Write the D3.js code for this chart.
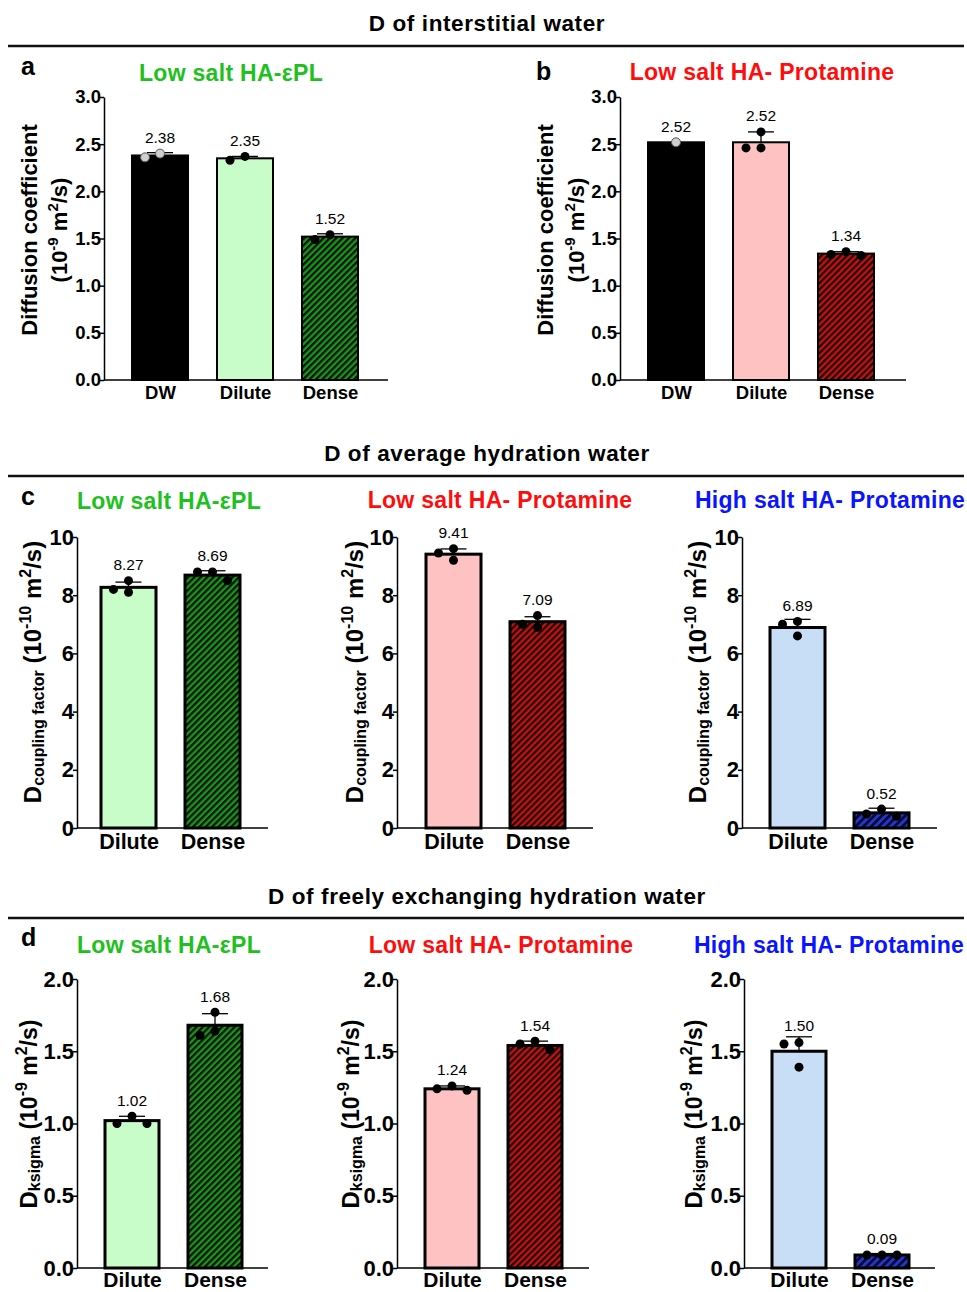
<!DOCTYPE html>
<html>
<head>
<meta charset="utf-8">
<script src="https://cdn.jsdelivr.net/npm/d3@7"></script>
<style>
  body{margin:0;background:#fff;}
  svg text{font-family:"Liberation Sans",Arial,Helvetica,sans-serif;}
</style>
</head>
<body>
<svg id="fig" width="967" height="1292"></svg>
<script>
// ---- data ----
var catsInter=["DW","Dilute","Dense"];
var catsHyd=["Dilute","Dense"];

// a: interstitial water, low salt HA-ePL (10^-9 m2/s)
var meanA=[2.38,2.35,1.52];
var sdA=[0.03,0.02,0.03];
var ptsA=[[2.36,2.40],[2.33,2.37],[1.49,1.54]];
// b: interstitial water, low salt HA-protamine
var meanB=[2.52,2.52,1.34];
var sdB=[0,0.11,0.02];
var ptsB=[[2.52],[2.63,2.46,2.46],[1.32,1.36,1.33]];
// c: D coupling factor (10^-10 m2/s)
var meanC1=[8.27,8.69],sdC1=[0.18,0.15],ptsC1=[[8.5,8.1,8.2],[8.8,8.5,8.8]];
var meanC2=[9.41,7.09],sdC2=[0.18,0.17],ptsC2=[[9.6,9.2,9.45],[7.3,6.9,7.0]];
var meanC3=[6.89,0.52],sdC3=[0.28,0.16],ptsC3=[[7.1,6.6,7.0],[0.4,0.65,0.48]];
// d: D ksigma (10^-9 m2/s)
var meanD1=[1.02,1.68],sdD1=[0.03,0.08],ptsD1=[[1.00,1.05,1.00],[1.77,1.61,1.64]];
var meanD2=[1.24,1.54],sdD2=[0.02,0.03],ptsD2=[[1.23,1.26,1.24],[1.57,1.51,1.55]];
var meanD3=[1.50,0.09],sdD3=[0.10,0.01],ptsD3=[[1.56,1.39,1.55],[0.09,0.09,0.09]];

var ticksAB=[0,0.5,1,1.5,2,2.5,3];
var ticksC=[0,2,4,6,8,10];
var ticksD=[0,0.5,1,1.5,2];

var headers=["D of interstitial water","D of average hydration water","D of freely exchanging hydration water"];
var titleEPL="Low salt HA-\u03b5PL", titlePro="Low salt HA- Protamine", titleHigh="High salt HA- Protamine";

// ---- colours ----
var green="#20c020", red="#ff0d0d", blue="#0a14ff";
var lightGreen="#c8fcc8", pink="#ffc2c2", lightBlue="#c8ddf6";

var svg=d3.select("#fig");
var defs=svg.append("defs");
function hatch(id,base,line,w,frac){
  var p=defs.append("pattern")
    .attr("id",id)
    .attr("patternUnits","userSpaceOnUse")
    .attr("width",w).attr("height",w)
    .attr("patternTransform","rotate(45)");
  p.append("rect").attr("width",w).attr("height",w).attr("fill",base);
  p.append("rect").attr("width",w*frac).attr("height",w).attr("fill",line);
}
hatch("hg","#1c961c","#051405",4.5,0.5);
hatch("hr","#c21414","#250303",4.5,0.5);
hatch("hb","#2636c8","#070b36",5.5,0.5);

// ---- section headers ----
var headY=[31,461,904], lineY=[46,476,918];
headers.forEach(function(h,i){
  svg.append("text").attr("x",487).attr("y",headY[i])
    .attr("text-anchor","middle")
    .style("font-size","22.5px").style("font-weight","bold").style("letter-spacing","0.6px")
    .text(h);
  svg.append("line").attr("x1",8).attr("x2",964)
    .attr("y1",lineY[i]).attr("y2",lineY[i])
    .attr("stroke","#111").attr("stroke-width",2.5);
});

// panel letters
[["a",21,75],["b",536,80],["c",21,505],["d",21,946]].forEach(function(l){
  svg.append("text").attr("x",l[1]).attr("y",l[2])
    .style("font-size","25px").style("font-weight","bold").text(l[0]);
});

function richText(sel,parts){
  var off=0;
  parts.forEach(function(p){
    var s=p.shift||0;
    sel.append("tspan").attr("dy",s-off)
      .style("font-size",p.size+"px").text(p.t);
    off=s;
  });
}

function yTitle(x,y,parts){
  var t=svg.append("text")
    .attr("transform","translate("+x+","+y+") rotate(-90)")
    .attr("text-anchor","middle")
    .style("font-weight","bold");
  richText(t,parts);
}

var unit9=[{t:"(10",size:22},{t:"-9",size:15,shift:-9},{t:" m",size:22},{t:"2",size:15,shift:-9},{t:"/s)",size:22}];
var coupling=[{t:"D",size:24},{t:"coupling factor",size:16,shift:3},{t:" (10",size:24},{t:"-10",size:16,shift:-10},{t:" m",size:24},{t:"2",size:16,shift:-10},{t:"/s)",size:24}];
var ksigma=[{t:"D",size:24},{t:"ksigma",size:16,shift:3},{t:" (10",size:23},{t:"-9",size:16,shift:-10},{t:" m",size:23},{t:"2",size:16,shift:-10},{t:"/s)",size:23}];

// ---- one bar panel ----
function panel(o){
  var y=d3.scaleLinear().domain([0,o.max]).range([o.yBot,o.yTop]);
  var n=o.cats.length, step=o.step, bw=o.bw;
  var x=d3.scaleBand().domain(o.cats)
    .range([o.ax+o.off,o.ax+o.off+n*step-(step-bw)])
    .paddingInner((step-bw)/step).paddingOuter(0);
  var g=svg.append("g");

  // bars
  g.selectAll("rect.bar").data(o.mean).enter().append("rect")
    .attr("class","bar")
    .attr("x",function(d,i){return x(o.cats[i]);})
    .attr("y",function(d){return y(d);})
    .attr("width",x.bandwidth())
    .attr("height",function(d){return o.yBot-y(d);})
    .attr("fill",function(d,i){return o.fills[i];})
    .attr("stroke","#000").attr("stroke-width",o.bs);

  // error bars (mean + SD)
  o.mean.forEach(function(m,i){
    if(!o.sd[i]) return;
    var cx=x(o.cats[i])+x.bandwidth()/2;
    g.append("line").attr("x1",cx).attr("x2",cx)
      .attr("y1",y(m)).attr("y2",y(m+o.sd[i]))
      .attr("stroke","#000").attr("stroke-width",1.3);
    g.append("line").attr("x1",cx-13).attr("x2",cx+13)
      .attr("y1",y(m+o.sd[i])).attr("y2",y(m+o.sd[i]))
      .attr("stroke","#000").attr("stroke-width",1.3);
  });

  // replicate points, spread sideways where they overlap
  var r=4.5, sp=15;
  o.pts.forEach(function(arr,i){
    var cx=x(o.cats[i])+x.bandwidth()/2;
    var placed=[];
    arr.slice().sort(function(a,b){return b-a;}).forEach(function(v){
      var py=y(v), cands=[0,-sp,sp,-2*sp,2*sp], px=cx;
      for(var k=0;k<cands.length;k++){
        var tx=cx+cands[k];
        var hit=placed.some(function(p){return Math.hypot(p[0]-tx,p[1]-py)<2*r;});
        if(!hit){px=tx;break;}
      }
      placed.push([px,py]);
    });
    g.selectAll(null).data(placed).enter().append("circle")
      .attr("cx",function(d){return d[0];})
      .attr("cy",function(d){return d[1];})
      .attr("r",r)
      .attr("fill",o.ptFill[i])
      .attr("stroke",o.ptFill[i]==="#000"?"none":"#555")
      .attr("stroke-width",1);
    var top=Math.min(y(o.mean[i]+o.sd[i]),d3.min(placed,function(d){return d[1];})-r);
    g.append("text").attr("x",cx).attr("y",top-6)
      .attr("text-anchor","middle")
      .style("font-size","15.5px")
      .text(o.mean[i].toFixed(2));
  });

  // axes
  var yAxis=d3.axisLeft(y).tickValues(o.ticks).tickSize(4).tickPadding(-1)
    .tickFormat(d3.format(o.fmt)).tickSizeOuter(0);
  var ya=g.append("g").attr("transform","translate("+o.ax+",0)").call(yAxis);
  ya.select(".domain").attr("stroke-width",1.5);
  ya.selectAll(".tick line").attr("stroke-width",1.5);
  ya.selectAll(".tick text").style("font-size",o.tf+"px").style("font-weight","bold")
    .style("font-family","'Liberation Sans',Arial,sans-serif").attr("fill","#000");

  var xAxis=d3.axisBottom(d3.scalePoint().domain(o.cats)
      .range([x(o.cats[0])+bw/2,x(o.cats[n-1])+bw/2]))
    .tickSize(0).tickPadding(o.xp);
  var xa=g.append("g").attr("transform","translate(0,"+o.yBot+")").call(xAxis);
  xa.select(".domain").attr("d","M"+o.ax+",0H"+o.xEnd).attr("stroke-width",1.5);
  xa.selectAll(".tick text").style("font-size",o.xf+"px").style("font-weight","bold")
    .style("font-family","'Liberation Sans',Arial,sans-serif").attr("fill","#000");

  // title
  svg.append("text").attr("x",o.tx).attr("y",o.ty)
    .attr("text-anchor","middle").attr("fill",o.tc)
    .style("font-size","23px").style("font-weight","bold").style("letter-spacing","0.3px")
    .text(o.title);
}

var ab={max:3,ticks:ticksAB,fmt:".1f",yTop:97,yBot:380,step:85,bw:56,off:28,bs:2,tf:18.5,xf:18.5,xp:6};
var cc={max:10,ticks:ticksC,fmt:"d",yTop:537,yBot:828,step:84,bw:55,off:28,bs:3,tf:22,xf:21.5,xp:6};
var dd={max:2,ticks:ticksD,fmt:".1f",yTop:979,yBot:1268,step:83,bw:54,off:28,bs:3,tf:22,xf:21,xp:4.5};

panel(Object.assign({},ab,{cats:catsInter,mean:meanA,sd:sdA,pts:ptsA,ax:104,xEnd:388,
  fills:["#000",lightGreen,"url(#hg)"],ptFill:["#cfcfcf","#000","#000"],
  title:titleEPL,tc:green,tx:231,ty:81}));
panel(Object.assign({},ab,{cats:catsInter,mean:meanB,sd:sdB,pts:ptsB,ax:620,xEnd:906,
  fills:["#000",pink,"url(#hr)"],ptFill:["#cfcfcf","#000","#000"],
  title:titlePro,tc:red,tx:762,ty:80}));

panel(Object.assign({},cc,{cats:catsHyd,mean:meanC1,sd:sdC1,pts:ptsC1,ax:77,xEnd:268,off:24,
  fills:[lightGreen,"url(#hg)"],ptFill:["#000","#000"],title:titleEPL,tc:green,tx:169,ty:509}));
panel(Object.assign({},cc,{cats:catsHyd,mean:meanC2,sd:sdC2,pts:ptsC2,ax:397,xEnd:593,off:29,
  fills:[pink,"url(#hr)"],ptFill:["#000","#000"],title:titlePro,tc:red,tx:500,ty:508}));
panel(Object.assign({},cc,{cats:catsHyd,mean:meanC3,sd:sdC3,pts:ptsC3,ax:742,xEnd:937,
  fills:[lightBlue,"url(#hb)"],ptFill:["#000","#000"],title:titleHigh,tc:blue,tx:830,ty:508}));

panel(Object.assign({},dd,{cats:catsHyd,mean:meanD1,sd:sdD1,pts:ptsD1,ax:77,xEnd:268,
  fills:[lightGreen,"url(#hg)"],ptFill:["#000","#000"],title:titleEPL,tc:green,tx:169,ty:953}));
panel(Object.assign({},dd,{cats:catsHyd,mean:meanD2,sd:sdD2,pts:ptsD2,ax:397,xEnd:589,
  fills:[pink,"url(#hr)"],ptFill:["#000","#000"],title:titlePro,tc:red,tx:501,ty:953}));
panel(Object.assign({},dd,{cats:catsHyd,mean:meanD3,sd:sdD3,pts:ptsD3,ax:744,xEnd:935,
  fills:[lightBlue,"url(#hb)"],ptFill:["#000","#000"],title:titleHigh,tc:blue,tx:829,ty:953}));

// y titles
yTitle(37,230,[{t:"Diffusion coefficient",size:22}]);
yTitle(67,230,unit9);
yTitle(553,230,[{t:"Diffusion coefficient",size:22}]);
yTitle(584,230,unit9);
yTitle(41,672,coupling);
yTitle(363,672,coupling);
yTitle(706,672,coupling);
yTitle(37,1114,ksigma);
yTitle(359,1114,ksigma);
yTitle(702,1114,ksigma);
</script>
</body>
</html>
